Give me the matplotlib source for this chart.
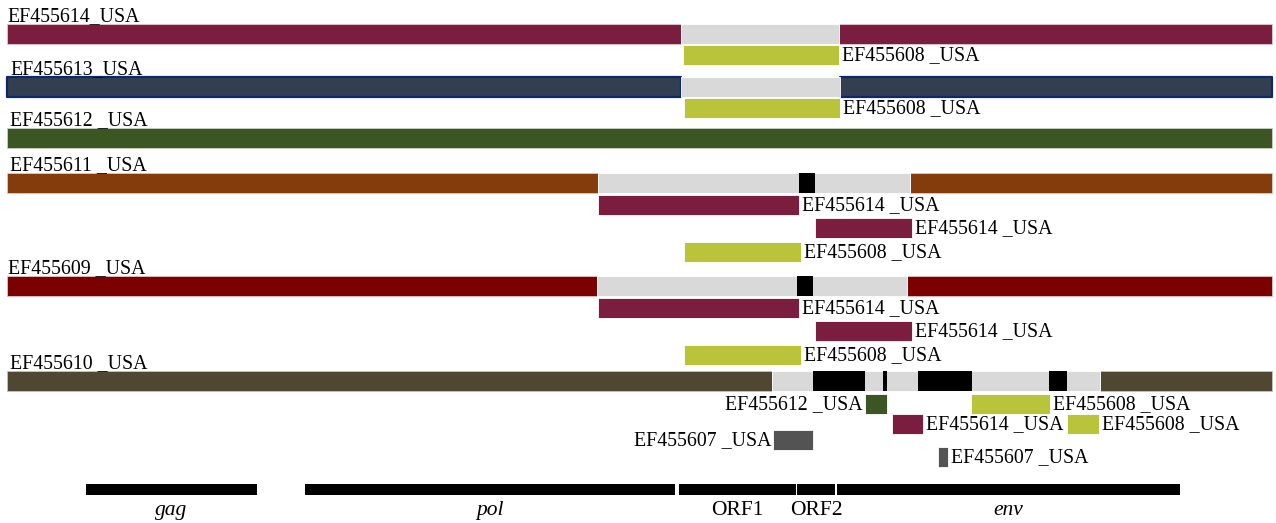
import matplotlib.pyplot as plt

# genome rows (top to bottom)
row_names = ["EF455614_USA", "EF455613_USA", "EF455612 _USA",
             "EF455611 _USA", "EF455609 _USA", "EF455610 _USA"]
genome_start = 7
genome_end = 1272
gray_regions = [[(681, 839)], [(681, 840)], [], [(598, 910)], [(597, 907)], [(772, 1100)]]
black_regions = [[], [], [], [(799, 815)], [(797, 813)],
                 [(813, 865), (883, 887), (918, 972), (1049, 1067)]]

# recombinant fragments: (row, start, end, parent, track, label side)
frag_row = [0, 1, 3, 3, 3, 4, 4, 4, 5, 5, 5, 5, 5, 5]
frag_start = [683, 684, 598, 815, 684, 598, 815, 684, 865, 971, 892, 1067, 773, 938]
frag_end = [839, 840, 799, 912, 801, 799, 912, 801, 887, 1050, 923, 1099, 813, 948]
frag_parent = ["EF455608 _USA", "EF455608 _USA",
               "EF455614 _USA", "EF455614 _USA", "EF455608 _USA",
               "EF455614 _USA", "EF455614 _USA", "EF455608 _USA",
               "EF455612 _USA", "EF455608 _USA", "EF455614 _USA", "EF455608 _USA",
               "EF455607 _USA", "EF455607 _USA"]
frag_track = [0, 0, 0, 1, 2, 0, 1, 2, 0, 0, 1, 1, 2, 3]
frag_side = ["r", "r", "r", "r", "r", "r", "r", "r", "l", "r", "r", "r", "l", "r"]

# genome map
genes = ["gag", "pol", "ORF1", "ORF2", "env"]
gene_start = [86, 305, 679, 797, 837]
gene_end = [257, 675, 796, 835, 1180]
gene_italic = [True, True, False, False, True]

# styles / layout
row_colors = ["#7B1D3E", "#333F50", "#3B5623", "#843C0C", "#7B0000", "#4F4731"]
row_edges = ["#E8C8D0", "#0C2A6B", "#C8D4C0", "#E8C8B8", "#E8C0C0", "#C8C4B8"]
row_lw = [0.6, 1.6, 0.6, 0.6, 0.6, 0.6]
parent_colors = {"EF455608 _USA": "#B9C43B", "EF455614 _USA": "#7B1D3E",
                 "EF455612 _USA": "#3B5623", "EF455607 _USA": "#535353"}
row_tops = [24, 77, 128, 173, 276, 371]
label_x = [7, 10, 10, 10, 8, 10]
track_tops = [[45], [98], [], [195, 218, 242], [298, 321, 345], [394, 414, 430, 447]]
bar_h = 19.5

plt.rcParams['font.family'] = ['Liberation Serif', 'DejaVu Serif']
fs = 14.3

fig = plt.figure(figsize=(12.76, 5.23), dpi=100)
ax = fig.add_axes([0, 0, 1, 1])
ax.set_xlim(0, 1276)
ax.set_ylim(523, 0)
ax.axis('off')

for i, name in enumerate(row_names):
    top = row_tops[i]
    # colored pieces outside gray regions
    pieces = []
    pos = genome_start
    for a, b in gray_regions[i]:
        pieces.append((pos, a - pos))
        pos = b
    pieces.append((pos, genome_end - pos))
    ax.broken_barh(pieces, (top, bar_h), facecolors=row_colors[i],
                   edgecolors=row_edges[i], linewidth=row_lw[i])
    if gray_regions[i]:
        ax.broken_barh([(a, b - a) for a, b in gray_regions[i]], (top, bar_h),
                       facecolors="#D9D9D9", edgecolors="white", linewidth=0.6)
    if black_regions[i]:
        ax.broken_barh([(a, b - a) for a, b in black_regions[i]], (top, bar_h),
                       facecolors="black", edgecolors="none")
    ax.text(label_x[i], top - 2.5, name, fontsize=fs, ha='left', va='baseline')

for k in range(len(frag_row)):
    r = frag_row[k]
    top = track_tops[r][frag_track[k]]
    s, e = frag_start[k], frag_end[k]
    ax.broken_barh([(s, e - s)], (top, bar_h), facecolors=parent_colors[frag_parent[k]],
                   edgecolors="white", linewidth=0.6)
    yc = top + bar_h / 2 + 5.5
    if frag_side[k] == "r":
        ax.text(e + 3, yc, frag_parent[k], fontsize=fs, ha='left', va='baseline')
    else:
        ax.text(s - 2, yc, frag_parent[k], fontsize=fs, ha='right', va='baseline')

for g, s, e, it in zip(genes, gene_start, gene_end, gene_italic):
    ax.broken_barh([(s, e - s)], (484, 10.5), facecolors="black", edgecolors="none")
    ax.text((s + e) / 2, 515, g, fontsize=15.5, ha='center', va='baseline',
            style='italic' if it else 'normal')

fig.savefig("out.png", dpi=100)
